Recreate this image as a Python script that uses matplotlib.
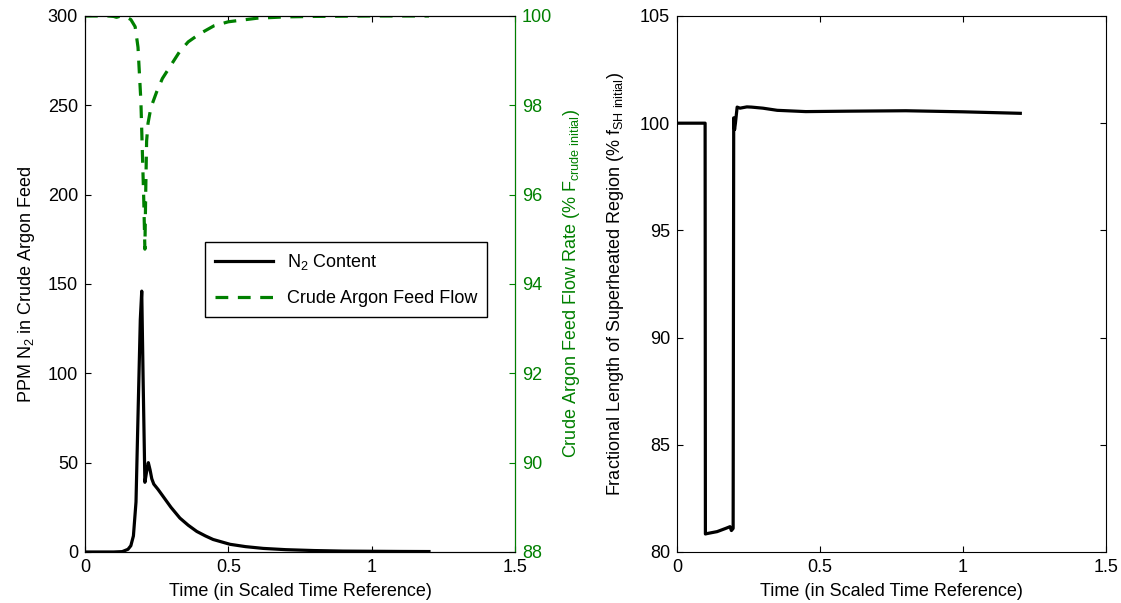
import matplotlib
matplotlib.use("Agg")
import matplotlib.pyplot as plt

plt.rcParams["font.family"] = ["Liberation Sans", "DejaVu Sans"]
plt.rcParams["mathtext.default"] = "regular"
plt.rcParams["font.size"] = 13

GREEN = "#008000"

# left panel: N2 content (ppm) vs scaled time
t_n2 = [0, 0.05, 0.1, 0.13, 0.15, 0.16, 0.169, 0.178, 0.186, 0.193, 0.198, 0.203,
        0.209, 0.215, 0.221, 0.227, 0.233, 0.24, 0.255, 0.273, 0.3, 0.331, 0.36,
        0.39, 0.42, 0.447, 0.506, 0.56, 0.622, 0.7, 0.8, 0.9, 1.0, 1.1, 1.2]
n2 = [0, 0, 0, 0.2, 1.5, 3.5, 9, 28, 83, 130, 146, 95,
      39, 45, 50, 46, 41, 38, 35, 31, 25, 19, 15,
      11.5, 9, 7, 4.3, 3, 2, 1.3, 0.8, 0.5, 0.4, 0.3, 0.25]

# left panel, right axis: crude argon feed flow (% of initial)
t_flow = [0, 0.08, 0.1, 0.11, 0.12, 0.14, 0.16, 0.175, 0.185, 0.195, 0.2, 0.205,
          0.209, 0.212, 0.215, 0.22, 0.23, 0.25, 0.27, 0.3, 0.33, 0.36, 0.4, 0.45,
          0.5, 0.6, 0.7, 0.8, 1.0, 1.2]
flow = [100, 100, 99.99, 99.97, 99.99, 99.99, 99.92, 99.76, 99.3, 98.1, 97.0, 95.9,
        94.78, 96.1, 97.2, 97.6, 97.95, 98.3, 98.6, 98.9, 99.2, 99.42, 99.6, 99.78,
        99.87, 99.95, 99.98, 99.99, 100, 100]

# right panel: fractional length of superheated region
t_sh = [0, 0.098, 0.099, 0.105, 0.14, 0.17, 0.185, 0.19, 0.196, 0.198, 0.201, 0.204,
        0.21, 0.22, 0.244, 0.26, 0.3, 0.35, 0.45, 0.6, 0.8, 1.0, 1.2]
sh = [100, 100, 80.84, 80.86, 80.95, 81.1, 81.18, 81.0, 81.1, 100.25, 99.7, 100.0,
      100.75, 100.7, 100.76, 100.75, 100.7, 100.6, 100.54, 100.56, 100.58, 100.53, 100.46]

fig = plt.figure(figsize=(11.21, 6.03), dpi=100)
ax1 = fig.add_axes([0.0758, 0.0846, 0.3836, 0.8889])
ax2 = ax1.twinx()
ax3 = fig.add_axes([0.604, 0.0846, 0.3827, 0.8889])

l1, = ax1.plot(t_n2, n2, color="black", lw=2.3, label="N$_2$ Content")
l2, = ax2.plot(t_flow, flow, color=GREEN, lw=2.3, dashes=(4, 3),
               label="Crude Argon Feed Flow")

ax1.set_xlim(0, 1.5)
ax1.set_ylim(0, 300)
ax1.set_xticks([0, 0.5, 1, 1.5])
ax1.set_xticklabels(["0", "0.5", "1", "1.5"])
ax1.set_yticks(range(0, 301, 50))
ax1.set_xlabel("Time (in Scaled Time Reference)", labelpad=5)
ax1.set_ylabel("PPM N$_2$ in Crude Argon Feed", labelpad=8)
ax1.tick_params(direction="in", top=True, length=4, pad=5)

ax2.set_ylim(88, 100)
ax2.set_yticks(range(88, 101, 2))
ax2.set_ylabel("Crude Argon Feed Flow Rate (% F$_{crude\\ initial}$)", color=GREEN,
               labelpad=6)
ax2.tick_params(direction="in", colors=GREEN, length=4, pad=5)
ax2.spines["right"].set_color(GREEN)

leg = ax1.legend([l1, l2], [l1.get_label(), l2.get_label()],
                 loc="upper left", bbox_to_anchor=(0.279, 0.578),
                 fancybox=False, edgecolor="black", framealpha=1,
                 handlelength=3.2, borderaxespad=0, labelspacing=1.0,
                 borderpad=0.55)
leg.get_frame().set_linewidth(1.0)

ax3.plot(t_sh, sh, color="black", lw=2.3)
ax3.set_xlim(0, 1.5)
ax3.set_ylim(80, 105)
ax3.set_xticks([0, 0.5, 1, 1.5])
ax3.set_xticklabels(["0", "0.5", "1", "1.5"])
ax3.set_yticks(range(80, 106, 5))
ax3.set_xlabel("Time (in Scaled Time Reference)", labelpad=5)
ax3.set_ylabel("Fractional Length of Superheated Region (% f$_{SH\\ initial}$)",
               labelpad=10)
ax3.tick_params(direction="in", top=True, right=True, length=4, pad=5)

fig.savefig("out.png", dpi=100)
